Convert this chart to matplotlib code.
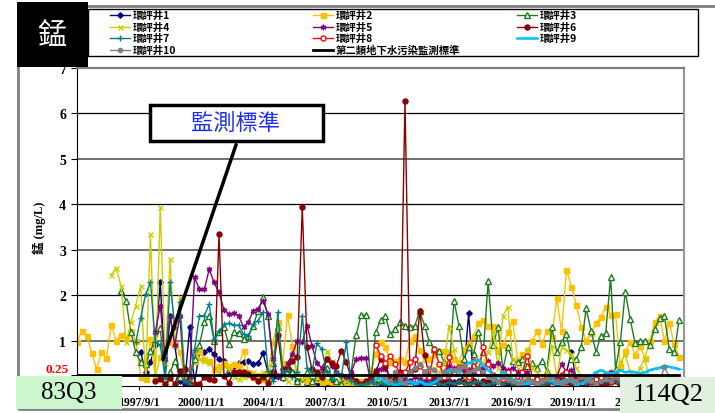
import numpy as np
import pandas as pd
import matplotlib
matplotlib.use('Agg')
import matplotlib.pyplot as plt
from matplotlib.patches import Rectangle
from matplotlib.lines import Line2D

# quarterly sampling, 83Q3 (1994) .. 114Q2 (2025)
n_q = 124
xtick_labels = ['1994/7/1', '1997/9/1', '2000/11/1', '2004/1/1', '2007/3/1',
                '2010/5/1', '2013/7/1', '2016/9/1', '2019/11/1', '2023/1/1']
ytick_values = [0.25, 1, 2, 3, 4, 5, 6, 7]
standard = 0.25

# series values (mg/L), first quarter index where each well starts
start_w1 = 13
well1 = [0.74, 0.31, 0.52, 0.90, 2.29, 0.20, 1.55, 0.89, 0.10, 0.05,
         1.29, 0.05, 0.75, 0.74, 0.81, 0.70, 0.60, 0.56, 0.30, 0.45,
         0.50, 0.53, 0.55, 0.48, 0.50, 0.72, 0.30, 0.20, 0.23, 0.17,
         0.40, 0.30, 0.10, 0.15, 0.05, 0.10, 0.05, 0.08, 0.05, 0.10,
         0.02, 0.05, 0.03, 0.05, 0.10, 0.05, 0.00, 0.05, 0.10, 0.05,
         0.02, 0.05, 0.08, 0.03, 0.05, 0.10, 0.05, 0.02, 0.08, 0.05,
         0.10, 0.05, 0.12, 0.05, 0.08, 0.10, 0.20, 1.60, 0.10, 0.05,
         0.08, 0.10, 0.05, 0.12, 0.08, 0.05, 0.10, 0.08, 0.12, 0.05,
         0.10, 0.05, 0.08, 0.12, 0.10, 0.05, 0.15, 0.30, 0.75, 0.10,
         0.05, 0.08, 0.10, 0.05, 0.10, 0.08, 0.15, 0.20, 0.10, 0.05,
         0.08, 0.10, 0.05, 0.12, 0.10, 0.08, 0.10, 0.05, 0.10, 0.15,
         0.10]

start_w2 = 0
well2 = [0.97, 1.22, 1.10, 0.73, 0.37, 0.74, 0.62, 1.34, 1.00, 1.12,
         1.05, 1.20, 1.00, 0.20, 0.15, 1.03, 0.20, 0.63, 0.90, 0.96,
         0.92, 0.74, 0.20, 0.10, 0.55, 0.78, 0.60, 0.56, 0.37, 0.45,
         0.50, 0.45, 0.48, 0.45, 0.77, 0.30, 0.20, 0.25, 0.15, 0.30,
         0.96, 1.40, 0.50, 1.56, 0.89, 0.04, 0.20, 0.12, 0.00, 0.15,
         0.05, 0.10, 0.02, 0.05, 0.12, 0.00, 0.05, 0.02, 0.10, 0.05,
         0.30, 0.70, 0.97, 0.85, 0.53, 0.55, 0.60, 0.53, 1.00, 1.10,
         0.80, 0.60, 0.60, 0.70, 0.78, 0.78, 0.74, 0.60, 0.53, 0.81,
         0.92, 1.10, 1.38, 1.45, 1.33, 1.33, 0.78, 0.90, 1.18, 1.44,
         0.56, 0.70, 0.78, 1.00, 1.20, 0.92, 1.22, 1.07, 1.93, 1.20,
         2.56, 2.19, 1.79, 1.30, 1.00, 1.16, 1.38, 1.52, 1.73, 1.57,
         1.58, 0.45, 0.76, 0.96, 0.69, 0.89, 0.62, 0.98, 1.41, 1.55,
         1.00, 1.38, 0.92, 0.64]

start_w3 = 9
well3 = [2.10, 1.88, 1.18, 0.74, 0.52, 0.48, 0.78, 1.00, 1.27, 0.15,
         0.30, 0.56, 0.20, 0.40, 0.10, 0.60, 0.91, 1.40, 1.55, 1.00,
         1.18, 1.29, 0.92, 1.18, 1.17, 1.03, 1.10, 1.33, 1.66, 1.96,
         1.55, 0.50, 1.30, 0.20, 0.40, 0.30, 0.10, 0.20, 0.30, 0.10,
         0.20, 0.30, 0.40, 0.20, 0.10, 0.05, 0.20, 0.30, 1.12, 1.56,
         1.56, 0.05, 1.18, 1.45, 1.55, 1.14, 1.25, 1.41, 1.33, 1.29,
         1.33, 1.64, 1.33, 0.96, 0.81, 0.78, 0.52, 0.30, 1.88, 1.33,
         0.59, 0.85, 0.70, 1.19, 0.74, 2.31, 0.90, 1.29, 0.37, 0.85,
         0.56, 0.52, 0.59, 0.45, 0.50, 0.40, 0.56, 0.34, 1.29, 0.75,
         0.97, 1.14, 0.59, 0.60, 0.85, 1.71, 1.22, 0.75, 1.10, 1.16,
         2.40, 0.37, 0.97, 2.08, 1.47, 0.94, 0.98, 0.98, 0.91, 1.26,
         1.49, 1.53, 0.81, 0.74, 1.46]

start_w4 = 7
well4 = [2.45, 2.60, 2.20, 0.96, 1.40, 1.77, 2.20, 0.15, 3.34, 0.15,
         3.93, 0.50, 2.79, 0.90, 1.95, 0.30, 0.10, 0.80, 0.60, 0.56,
         0.50, 0.40, 0.30, 0.45, 0.37, 0.20, 0.15, 0.20, 0.25, 0.30,
         0.20, 0.30, 0.10, 0.60, 1.30, 0.40, 0.10, 0.74, 0.30, 0.15,
         0.20, 0.30, 0.20, 0.10, 0.78, 0.55, 0.30, 0.20, 0.10, 0.05,
         0.10, 0.05, 0.02, 0.10, 0.15, 0.10, 0.05, 0.10, 0.05, 0.20,
         0.10, 0.30, 0.20, 0.15, 0.30, 0.25, 0.40, 0.30, 0.50, 1.33,
         0.81, 0.30, 0.20, 0.40, 0.30, 0.60, 0.50, 0.74, 1.20, 0.40,
         1.55, 1.74, 0.60, 0.40, 0.30, 0.81, 0.40, 0.30, 0.20, 0.30,
         0.89, 0.20, 0.85, 0.80, 0.70, 0.40, 0.20, 0.10, 0.20, 0.30,
         0.20, 0.30, 0.20, 0.30, 0.50, 0.70, 0.30, 0.20, 0.40, 0.60,
         0.10, 0.10, 0.20, 0.15, 0.10, 0.10, 0.10]

start_w5 = 16
well5 = [1.18, 1.77, 0.60, 1.55, 0.90, 1.55, 0.08, 0.20, 2.39, 2.13,
         2.13, 2.57, 2.28, 2.06, 1.68, 1.58, 1.60, 1.55, 1.30, 1.40,
         1.66, 1.70, 1.88, 1.58, 0.60, 0.20, 0.30, 0.50, 0.70, 1.00,
         0.96, 1.33, 0.89, 0.50, 0.40, 0.60, 0.45, 0.30, 0.25, 0.20,
         0.30, 0.59, 0.61, 0.61, 0.10, 0.35, 0.38, 0.38, 0.20, 0.10,
         0.05, 0.15, 0.10, 0.20, 0.15, 0.10, 0.15, 0.20, 0.10, 0.30,
         0.45, 0.40, 0.40, 0.35, 0.35, 0.30, 0.35, 0.40, 0.55, 0.45,
         0.50, 0.40, 0.35, 0.40, 0.30, 0.25, 0.30, 0.20, 0.15, 0.10,
         0.15, 0.10, 0.20, 0.48, 0.30, 0.35, 0.15, 0.10, 0.20, 0.15,
         0.10, 0.15, 0.20, 0.30, 0.25, 0.20, 0.10, 0.15, 0.10, 0.05,
         0.10, 0.15, 0.10, 0.05, 0.10, 0.05, 0.10, 0.05]

start_w6 = 16
well6 = [0.10, 0.15, 0.05, 0.17, 0.05, 0.34, 0.37, 0.05, 0.03, 0.05,
         0.19, 0.15, 0.13, 3.34, 0.23, 0.07, 0.30, 0.30, 0.30, 0.26,
         0.20, 0.12, 0.20, 0.07, 0.30, 1.12, 0.37, 0.37, 0.56, 0.63,
         3.95, 0.85, 0.37, 0.30, 0.20, 0.59, 0.50, 0.45, 0.78, 0.52,
         0.20, 0.10, 0.05, 0.10, 0.20, 0.30, 0.59, 0.45, 0.15, 0.20,
         0.30, 6.27, 0.30, 0.37, 1.66, 0.68, 0.20, 0.10, 0.15, 0.05,
         0.10, 0.05, 0.10, 0.08, 0.05, 0.12, 0.03, 0.10, 0.05, 0.08,
         0.15, 0.05, 0.10, 0.02, 0.08, 0.05, 0.12, 0.10, 0.05, 0.08,
         0.03, 0.10, 0.05, 0.15, 0.08, 0.05, 0.10, 0.12, 0.05, 0.08,
         0.10, 0.05, 0.03, 0.08, 0.10, 0.05, 0.12, 0.08, 0.05, 0.10,
         0.15, 0.10, 0.05, 0.08, 0.10, 0.12, 0.08, 0.10]

start_w7 = 12
well7 = [0.96, 1.50, 2.02, 2.28, 0.96, 0.90, 0.19, 2.28, 1.30, 1.84,
         0.10, 0.05, 0.80, 1.55, 1.55, 1.80, 1.03, 1.20, 1.36, 1.38,
         1.34, 1.34, 1.14, 1.10, 1.36, 1.44, 1.62, 0.34, 0.10, 1.62,
         0.30, 0.35, 0.20, 0.30, 1.55, 0.40, 0.30, 0.94, 0.81, 0.30,
         0.15, 0.30, 0.20, 0.96, 0.10, 0.05, 0.02, 0.05, 0.10, 0.05,
         0.08, 0.03, 0.05, 0.10, 0.05, 0.02, 0.08, 0.05, 0.10, 0.04,
         0.06, 0.10, 0.05, 0.03, 0.08, 0.05, 0.10, 0.06, 0.04, 0.08,
         0.10, 0.05, 0.03, 0.06, 0.08, 0.05, 0.10, 0.04, 0.06, 0.05,
         0.08, 0.10, 0.05, 0.03, 0.06, 0.08, 0.05, 0.10, 0.12, 0.08,
         0.05, 0.10, 0.06, 0.08, 0.05, 0.10, 0.12, 0.08, 0.10, 0.06,
         0.08, 0.10, 0.05, 0.08, 0.10, 0.12, 0.08, 0.10, 0.06, 0.08,
         0.10, 0.12]

start_w8 = 61
well8 = [0.91, 0.67, 0.50, 0.67, 0.48, 0.25, 0.30, 0.52, 0.60, 0.45,
         0.30, 0.20, 0.81, 0.48, 0.20, 0.63, 0.30, 0.41, 0.43, 0.20,
         0.56, 0.30, 0.85, 0.48, 0.25, 0.20, 0.15, 0.30, 0.20, 0.10,
         0.30, 0.67, 0.20, 0.15, 0.10, 0.20, 0.15, 0.10, 0.25, 0.30,
         0.20, 0.10, 0.20, 0.15, 0.10, 0.15, 0.20, 0.25, 0.10, 0.20,
         0.15, 0.10, 0.20, 0.15, 0.10, 0.05, 0.10, 0.15, 0.10, 0.05,
         0.10, 0.15, 0.10]

start_w9 = 61
well9 = [0.15, 0.20, 0.10, 0.05, 0.02, 0.05, 0.05, 0.10, 0.05, 0.10,
         0.05, 0.03, 0.08, 0.15, 0.30, 0.35, 0.35, 0.30, 0.45, 0.50,
         0.55, 0.57, 0.45, 0.35, 0.25, 0.20, 0.30, 0.25, 0.15, 0.10,
         0.05, 0.05, 0.10, 0.05, 0.10, 0.15, 0.10, 0.05, 0.10, 0.15,
         0.10, 0.05, 0.05, 0.10, 0.20, 0.30, 0.35, 0.30, 0.28, 0.30,
         0.35, 0.30, 0.32, 0.30, 0.28, 0.30, 0.35, 0.38, 0.40, 0.45,
         0.42, 0.40, 0.37]

start_w10 = 63
well10 = [0.20, 0.10, 0.30, 0.15, 0.05, 0.30, 0.40, 0.48, 0.30, 0.40,
          0.35, 0.20, 0.30, 0.25, 0.35, 0.40, 0.45, 0.30, 0.35, 0.40,
          0.30, 0.20, 0.15, 0.10, 0.20, 0.15, 0.10, 0.05, 0.10, 0.15,
          0.10, 0.05, 0.10, 0.15, 0.20, 0.10, 0.05, 0.10, 0.15, 0.10,
          0.20, 0.15, 0.10, 0.05, 0.10, 0.15, 0.10, 0.20, 0.15, 0.10,
          0.05, 0.10, 0.15, 0.10, 0.20, 0.15, 0.10, 0.41, 0.20, 0.15,
          0.10]

names = ['環評井1', '環評井2', '環評井3', '環評井4', '環評井5',
         '環評井6', '環評井7', '環評井8', '環評井9', '環評井10']
std_name = '第二類地下水污染監測標準'

series = [(start_w1, well1), (start_w2, well2), (start_w3, well3),
          (start_w4, well4), (start_w5, well5), (start_w6, well6),
          (start_w7, well7), (start_w8, well8), (start_w9, well9),
          (start_w10, well10)]

styles = [
    dict(color='#000080', marker='D', ms=2.8, mfc='#000080'),
    dict(color='#FFC000', marker='s', ms=3.6, mfc='#FFC000'),
    dict(color='#1E7B1E', marker='^', ms=3.8, mfc='white'),
    dict(color='#CCCC00', marker='x', ms=3.6, mew=1.0),
    dict(color='#800080', marker=(6, 2, 0), ms=4.0, mew=1.0),
    dict(color='#8B0000', marker='o', ms=3.6, mfc='#8B0000'),
    dict(color='#008080', marker='+', ms=4.2, mew=1.0),
    dict(color='#FF0000', marker='o', ms=3.6, mfc='white', mew=1.0),
    dict(color='#00BFFF', marker='_', ms=4.0, lw=1.8),
    dict(color='#808080', marker='o', ms=3.0, mfc='#808080'),
]

dates = pd.date_range('1994-07-01', periods=n_q, freq='QS')
xticks = pd.to_datetime(xtick_labels, format='%Y/%m/%d')

serif = ['Liberation Serif', 'Noto Sans CJK TC']
cjk = ['Noto Sans CJK TC', 'DejaVu Sans']

W, H = 715, 414
def fx(px):
    return px / W
def fy(py):
    return 1 - py / H

fig = plt.figure(figsize=(7.15, 4.14), dpi=100)
ax = fig.add_axes([fx(77), fy(387), (684 - 77) / W, (387 - 69) / H])

for (s, vals), st, name in zip(series, styles, names):
    kw = dict(lw=1.0)
    kw.update(st)
    ax.plot(dates[s:s + len(vals)], vals, label=name, **kw)
ax.plot(dates, [standard] * n_q, color='black', lw=2.0, label=std_name)

# gridlines
for g in [1, 3, 5]:
    ax.axhline(g, color='#707070', lw=1.4, zorder=0)
for g in [2, 4, 6]:
    ax.axhline(g, color='black', lw=0.9, zorder=0)

ax.set_xlim(pd.Timestamp('1994-07-01'), pd.Timestamp('2025-07-01'))
ax.set_ylim(0, 7)
ax.set_yticks(ytick_values)
# 0.25 label is drawn separately (red, nudged up)
ax.set_yticklabels([''] + [str(v) for v in ytick_values[1:]],
                   fontfamily=serif, fontweight='bold', fontsize=10)
ax.annotate(str(ytick_values[0]), xy=(0, ytick_values[0]),
            xycoords=('axes fraction', 'data'), xytext=(-6, 4),
            textcoords='offset points', ha='right', va='center',
            color='red', fontsize=9.5, fontweight='bold', family=serif)
ax.tick_params(axis='y', length=4, direction='out', pad=4)
ax.set_xticks(xticks)
ax.set_xticklabels(xtick_labels, fontfamily=serif, fontweight='bold', fontsize=8.5)
ax.tick_params(axis='x', length=3, direction='out', pad=4)
ax.set_ylabel('錳 (mg/L)', fontfamily=serif, fontweight='bold', fontsize=9, labelpad=9)

ax.spines['top'].set_color('#808080')
ax.spines['top'].set_linewidth(1.6)
ax.spines['right'].set_color('#999999')
ax.spines['right'].set_linewidth(1.6)

# legend drawn by hand: 3 equal columns, row-wise order
fig.add_artist(Rectangle((fx(88), fy(57)), 610 / W, 47 / H,
                         transform=fig.transFigure, facecolor='white',
                         edgecolor='black', lw=1.0, zorder=4))
legend_entries = [(names[i], styles[i]) for i in range(10)]
legend_entries.append((std_name, dict(color='black', lw=2.0, marker='')))
col_x = [110, 313, 517]
row_y = [16, 27.5, 39, 50.5]
for k, (label, st) in enumerate(legend_entries):
    cx = col_x[k % 3]
    cy = row_y[k // 3]
    kw = dict(lw=1.0)
    kw.update(st)
    ln = Line2D([fx(cx), fx(cx + 10), fx(cx + 20)], [fy(cy)] * 3,
                transform=fig.transFigure, markevery=[1], zorder=5, **kw)
    fig.add_artist(ln)
    fig.text(fx(cx + 23), fy(cy), label, family=cjk, weight='bold',
             fontsize=7.5, ha='left', va='center', zorder=5)

# outer chart frame
fig.add_artist(Rectangle((fx(18), fy(410)), 720 / W, 403 / H,
                         transform=fig.transFigure, fill=False,
                         edgecolor='#808080', lw=2.0, zorder=-5))

# title box
fig.add_artist(Rectangle((fx(17), fy(68)), 71 / W, 65 / H,
                         transform=fig.transFigure, facecolor='black',
                         edgecolor='none', zorder=5))
fig.text(fx(52), fy(36), '錳', color='white', fontsize=21,
         family=cjk, ha='center', va='center', zorder=6)

# annotation
ax.annotate('', xy=(fx(162), fy(363)), xycoords='figure fraction',
            xytext=(fx(237), fy(143)), textcoords='figure fraction',
            arrowprops=dict(arrowstyle='-', color='black', lw=2.5), zorder=8)
fig.add_artist(Rectangle((fx(150), fy(142)), 173 / W, 36 / H,
                         transform=fig.transFigure, facecolor='white',
                         edgecolor='black', lw=2.5, zorder=9))
fig.text(fx(236), fy(123), '監測標準', color='#2030F0', fontsize=16,
         family=cjk, ha='center', va='center', zorder=10)

# period boxes
fig.add_artist(Rectangle((fx(16), fy(410)), 106 / W, 33 / H,
                         transform=fig.transFigure, facecolor='#CCF7CC',
                         edgecolor='none', zorder=9))
fig.text(fx(69), fy(393), '83Q3', fontsize=18, family=serif,
         ha='center', va='center', zorder=10)
fig.add_artist(Rectangle((fx(620), 0), 95 / W, 36 / H,
                         transform=fig.transFigure, facecolor='#E2F0E0',
                         edgecolor='none', zorder=9))
fig.text(fx(668), fy(395), '114Q2', fontsize=19, family=serif,
         ha='center', va='center', zorder=10)

fig.savefig('out.png', dpi=100)
